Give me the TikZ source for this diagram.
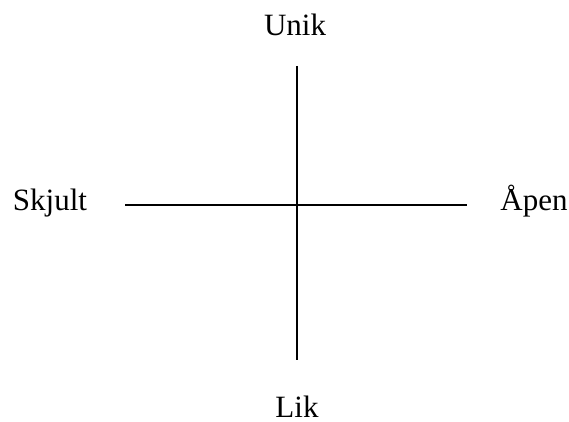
\documentclass[tikz,border=0pt]{standalone}
\usepackage{fontspec}
\setmainfont{Liberation Serif}
\begin{document}
\begin{tikzpicture}[x=1pt,y=1pt,
  axis/.style={line width=1.5pt},
  lbl/.style={inner sep=0pt,font=\fontsize{31}{36}\selectfont}]
\useasboundingbox (0,0) rectangle (569,421);
\coordinate (top) at (297,355);
\coordinate (bot) at (297,61);
\coordinate (lft) at (125,216);
\coordinate (rgt) at (467,216);
\draw[axis] (top) -- (bot);
\draw[axis] (lft) -- (rgt);
\node[lbl,anchor=base] (unik) at (295,385) {Unik};
\node[lbl,anchor=base] (lik) at (297,4) {Lik};
\node[lbl,anchor=base] (skjult) at (50,211) {Skjult};
\node[lbl,anchor=base] (apen) at (534,211) {Åpen};
\end{tikzpicture}
\end{document}
